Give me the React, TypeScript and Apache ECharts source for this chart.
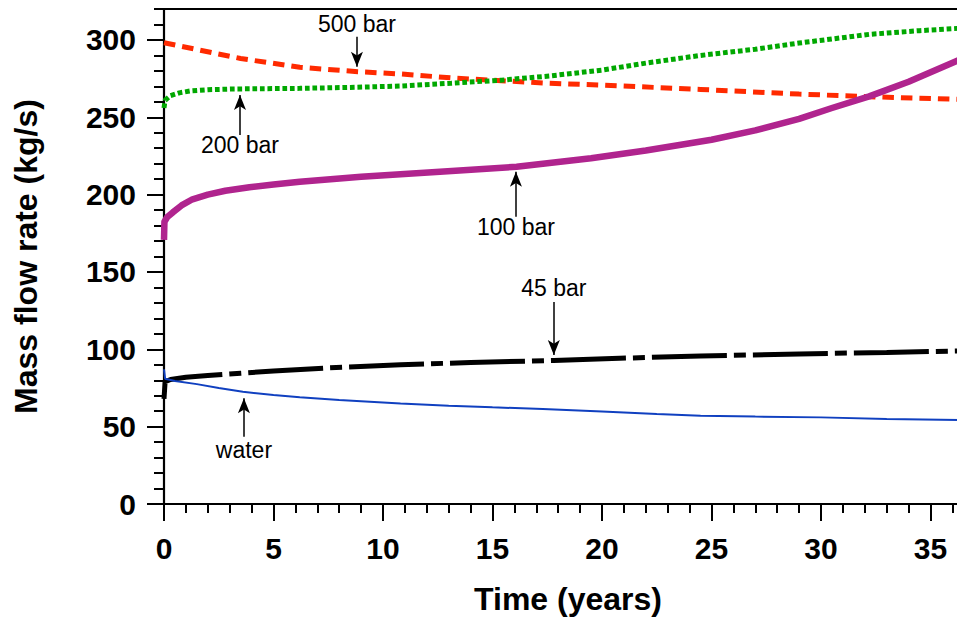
import React, { useEffect, useRef } from "react";
import * as echarts from "echarts";

// ---- data (years, kg/s) ----
const waterX = [0, 0.05, 0.5, 1.5, 2.5, 3.6, 5, 6.2, 8, 10.8, 13, 15, 17.3, 20, 22.5, 24.5, 27, 30, 33, 36.3];
const waterY = [87, 81, 79.5, 77.5, 75, 72.5, 70.5, 69, 67.3, 65, 63.5, 62.5, 61.4, 59.8, 58.2, 57, 56.5, 56, 55, 54.3];

const bar45X = [0, 0.05, 0.3, 1, 2, 3.5, 5, 7.5, 10.8, 14, 17.8, 20.8, 24.5, 29, 33, 36.3];
const bar45Y = [68, 79, 80.5, 82, 83, 84.5, 86, 88, 90, 91.5, 92.8, 94.2, 95.7, 97, 98, 98.9];

const bar100X = [0, 0.02, 0.15, 0.4, 0.8, 1.3, 2, 2.8, 3.9, 5, 6.2, 9, 12.6, 16.1, 19.5, 22, 25, 27, 29, 30.5, 32.2, 34, 36.3];
const bar100Y = [170.7, 182.5, 185.5, 188.5, 193, 197, 200, 202.5, 204.8, 206.5, 208.3, 211.5, 214.8, 218, 223.5, 228.5, 235.5, 241.5, 249, 256, 263.5, 273, 287];

const bar200X = [0, 0.05, 0.3, 0.7, 1.2, 2, 3.2, 6.2, 8.5, 10.8, 13.1, 15.4, 17.6, 20, 22, 24.5, 27, 29, 32.2, 34.5, 36.3];
const bar200Y = [256, 261, 264, 265.8, 267, 267.8, 268.3, 268.7, 269.3, 270.2, 272, 274, 276.7, 280.5, 285, 290, 294, 298, 303.6, 306, 307.5];

const bar500X = [0, 1.6, 3.5, 6.2, 8.85, 10.8, 13.1, 15.4, 17.6, 20, 24.5, 29, 32.2, 36.3];
const bar500Y = [298.2, 293.5, 288, 282.3, 279.5, 278, 275.5, 273.6, 272, 270.8, 268, 265, 263.3, 261.6];

const xTicks = [0, 5, 10, 15, 20, 25, 30, 35, 40];
const xLabels = [0, 5, 10, 15, 20, 25, 30, 35];
const yTicks = [0, 50, 100, 150, 200, 250, 300];

// annotation labels: text, x (years), label y, arrow start y, arrow tip y (kg/s)
const noteText = ["500 bar", "200 bar", "100 bar", "45 bar", "water"];
const noteX = [8.81, 3.47, 16.07, 17.8, 3.65];
const noteLabelY = [310.5, 232, 179, 139.6, 35];
const noteFromY = [302, 238.5, 185.7, 130.6, 43.5];
const noteToY = [282.7, 264.4, 214.8, 96.3, 68.3];

const pairs = (xs: number[], ys: number[]) => xs.map((x, i) => [x, ys[i]]);

const FONT = "'Liberation Sans', Arial, Helvetica, sans-serif";

export default function App() {
  const ref = useRef<HTMLDivElement>(null);
  useEffect(() => {
    if (!ref.current) return;
    const chart = echarts.init(ref.current, undefined, { renderer: "svg" });
    const grid = { left: 164, top: 9, bottom: 121, right: 0, containLabel: false, outerBoundsMode: "none" };
    const axisLineStyle = { color: "#000", width: 2.2 };
    const option: any = {
      animation: false,
      backgroundColor: "#fff",
      grid,
      xAxis: [
        {
          type: "value",
          min: 0,
          max: 40,
          interval: 5,
          position: "bottom",
          name: "Time (years)",
          nameLocation: "middle",
          nameGap: 79,
          nameTextStyle: {
            fontFamily: FONT,
            fontWeight: "bold",
            fontSize: 32,
            color: "#000",
            padding: [0, 68, 0, 0],
          },
          axisLine: { show: true, onZero: false, lineStyle: axisLineStyle },
          axisTick: { show: true, inside: false, length: 17, lineStyle: { color: "#000", width: 2 }, customValues: xTicks },
          minorTick: { show: true, splitNumber: 5, length: 9, lineStyle: { color: "#000", width: 2 } },
          axisLabel: {
            show: true,
            margin: 29,
            fontFamily: FONT,
            fontWeight: "bold",
            fontSize: 30,
            color: "#000",
            customValues: xLabels,
          },
          splitLine: { show: false },
          minorSplitLine: { show: false },
        },
        {
          type: "value",
          min: 0,
          max: 40,
          position: "top",
          axisLine: { show: true, onZero: false, lineStyle: axisLineStyle },
          axisTick: { show: false },
          axisLabel: { show: false },
          splitLine: { show: false },
        },
      ],
      yAxis: [
        {
          type: "value",
          min: 0,
          max: 320,
          interval: 50,
          position: "left",
          name: "Mass flow rate (kg/s)",
          nameLocation: "middle",
          nameGap: 122,
          nameRotate: 90,
          nameTextStyle: { fontFamily: FONT, fontWeight: "bold", fontSize: 32, color: "#000" },
          axisLine: { show: true, onZero: false, lineStyle: axisLineStyle },
          axisTick: { show: true, inside: false, length: 17, lineStyle: { color: "#000", width: 2 }, customValues: yTicks },
          axisLabel: {
            show: true,
            margin: 28,
            fontFamily: FONT,
            fontWeight: "bold",
            fontSize: 30,
            color: "#000",
            customValues: yTicks,
          },
          splitLine: { show: false },
        },
        {
          type: "value",
          min: 0,
          max: 320,
          interval: 10,
          position: "left",
          axisLine: { show: false },
          axisTick: { show: true, inside: false, length: 10, lineStyle: { color: "#000", width: 2 } },
          axisLabel: { show: false },
          splitLine: { show: false },
        },
      ],
      series: [
        {
          name: "500 bar",
          type: "line",
          data: pairs(bar500X, bar500Y),
          showSymbol: false,
          smooth: false,
          lineStyle: { color: "#ff2a00", width: 5, type: [11.5, 7], cap: "butt" },
          silent: true,
        },
        {
          name: "200 bar",
          type: "line",
          data: pairs(bar200X, bar200Y),
          showSymbol: false,
          smooth: false,
          lineStyle: { color: "#00a800", width: 5, type: [4.7, 2.8], cap: "butt" },
          silent: true,
        },
        {
          name: "100 bar",
          type: "line",
          data: pairs(bar100X, bar100Y),
          showSymbol: false,
          smooth: false,
          lineStyle: { color: "#b0248e", width: 6.5, type: "solid", join: "round" },
          silent: true,
        },
        {
          name: "45 bar",
          type: "line",
          data: pairs(bar45X, bar45Y),
          showSymbol: false,
          smooth: false,
          lineStyle: { color: "#000", width: 5, type: [75, 7, 12, 7], cap: "butt" },
          silent: true,
        },
        {
          name: "water",
          type: "line",
          data: pairs(waterX, waterY),
          showSymbol: false,
          smooth: false,
          lineStyle: { color: "#1040c0", width: 2 },
          silent: true,
        },
        {
          name: "notes",
          type: "line",
          data: [],
          silent: true,
          z: 10,
          markLine: {
            silent: true,
            animation: false,
            symbol: ["none", "arrow"],
            label: { show: false },
            lineStyle: { color: "#000", width: 1.5, type: "solid" },
            emphasis: { disabled: true },
            data: noteText.map((_, i) => [
              { coord: [noteX[i], noteFromY[i]], symbol: "none" },
              { coord: [noteX[i], noteToY[i]], symbol: "arrow", symbolSize: [9, 15] },
            ]),
          },
          markPoint: {
            silent: true,
            animation: false,
            symbol: "circle",
            symbolSize: 0,
            itemStyle: { color: "transparent" },
            label: {
              show: true,
              position: "inside",
              formatter: "{b}",
              color: "#000",
              fontFamily: FONT,
              fontSize: 23,
              fontWeight: "normal",
            },
            data: noteText.map((t, i) => ({ name: t, coord: [noteX[i], noteLabelY[i]] })),
          },
        },
      ],
    };
    chart.setOption(option);
    return () => chart.dispose();
  }, []);
  return (
    <div
      ref={ref}
      style={{ position: "fixed", left: 0, top: 0, width: 1040, height: 625, background: "#fff" }}
    />
  );
}
